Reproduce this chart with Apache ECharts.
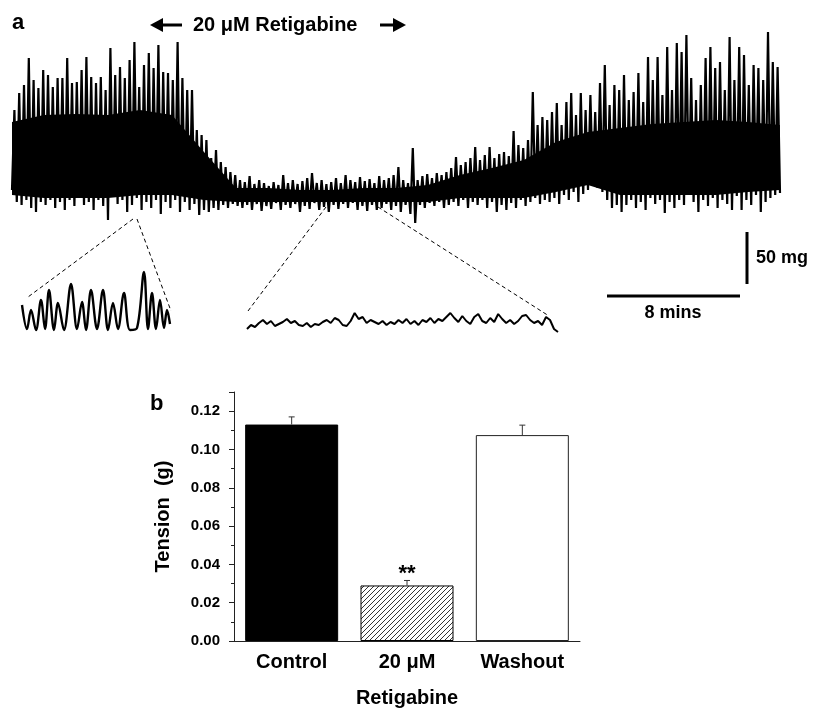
<!DOCTYPE html>
<html lang="en">
<head>
<meta charset="utf-8">
<title>Retigabine - tension</title>
<script src="https://cdn.jsdelivr.net/npm/echarts@6/dist/echarts.min.js"></script>
<style>
  html, body { margin: 0; padding: 0; background: #fff; }
  #chart { width: 819px; height: 709px; }
</style>
</head>
<body>
<div id="chart"></div>
<script>
// ---- panel a: raw tension trace (mg above trace floor) ----
const traceMg = [
  40,120,28,137,25,145,30,172,22,150, 18,142,28,160,25,155,30,143,22,152,
  28,152,20,172,30,147,24,148,32,160, 25,173,28,153,20,147,30,153,24,140,
  10,182,35,155,26,163,30,152,18,170, 25,188,32,143,20,165,28,177,22,162,
  30,185,16,158,28,157,22,150,30,188, 18,152,28,140,20,140,26,
  100,15,95,20,90,18,72,22,80,20,68,25,63,22,58,26,55,24,
  50,22,48,25,54,20,46,26,50,19, 47,24,44,21,48,27,45,20,55,25,
  47,22,50,26,46,18,49,24,52,21, 57,27,47,20,50,23,46,18,48,25,
  52,21,47,26,55,22,50,27,48,20, 53,24,49,19,51,25,47,20,54,22,
  50,26,52,20,55,24,63,18,50,25, 47,16,82,7,50,25,54,22,56,27,
  52,24,57,28,55,22,
  58,25,62,28,73,24,65,30,68,22, 72,28,83,25,70,30,75,22,83,28,
  72,18,76,25,78,20,74,27,99,22, 85,30,82,24,90,28,138,32,105,26,
  113,30,110,28,118,32,127,26,105,35, 128,30,137,38,115,28,137,36,120,40,
  135,45,118,42,147,38,165,30,125,22, 145,25,140,18,
  155,25,130,30,138,22,157,28,128,20, 173,32,150,26,173,30,135,17,183,28,
  140,22,187,30,178,25,195,35,152,28, 130,18,145,30,172,24,183,32,162,22,
  168,30,140,26,193,20,150,34,183,20, 175,30,145,25,165,35,162,18,150,28,
  198,32,168,35,163,37
];
const sampleMin = 0.1444;   // minutes between samples (8 min ~ 55 samples)

// solid core of the trace (where the oscillations overlap), read every ~1.9 min
const coreStepMin = 1.925;
const coreTopMg    = [108,115,116,115,120,115,78,42,42,40,40,42,42,45,55,62,70,88,98,102,106,108,110,108,105];
const coreBottomMg = [35,32,32,32,35,35,30,28,28,28,28,28,28,28,32,32,32,38,45,35,35,35,35,38,40];

// expanded insets: control period (left) and retigabine period (middle)
const leftInsetT  = [0,5,9,14,19,23,27,32,36,42,49,55,60,64,69,75,81,86,91,96,102,108,115,122,126,130,134,138,142,145,148];
const leftInsetMg = [27,3,22,2,32,3,42,2,29,2,48,3,30,2,42,3,42,2,29,3,39,2,4,60,3,39,3,32,4,22,8];
const midInsetMg = [
  6,10,8,12,15,11,14,9,11,13, 16,12,14,10,9,12,8,11,10,13,
  15,12,17,15,10,9,14,22,16,18, 12,15,13,11,14,10,13,11,15,12,
  16,11,14,10,15,13,17,12,16,14, 18,22,17,13,19,14,11,18,21,14,
  12,17,13,21,16,12,15,11,14,19, 20,15,12,14,10,18,15,6,3
];

// ---- panel b: mean tension ----
const groups = ['Control', '20 \u03BCM', 'Washout'];
const tensionG = [0.113, 0.029, 0.1075];
const semG = [0.004, 0.0026, 0.0052];
const sigMarks = ['', '**', ''];

const FONT = '"Liberation Sans", Arial, Helvetica, sans-serif';

function hatch() {
  const c = document.createElement('canvas');
  c.width = 5; c.height = 5;
  const g = c.getContext('2d');
  g.fillStyle = '#fff';
  g.fillRect(0, 0, 5, 5);
  g.strokeStyle = '#000';
  g.lineWidth = 0.8;
  g.beginPath();
  g.moveTo(0, 5); g.lineTo(5, 0);
  g.moveTo(-1, 1); g.lineTo(1, -1);
  g.moveTo(4, 6); g.lineTo(6, 4);
  g.stroke();
  return c;
}

const barStyles = [
  { color: '#000', borderColor: '#000', borderWidth: 1 },
  { color: { image: hatch(), repeat: 'repeat' }, borderColor: '#000', borderWidth: 1 },
  { color: '#fff', borderColor: '#222', borderWidth: 1 }
];

function txt(x, y, text, size, align) {
  return {
    type: 'text', x: x, y: y, silent: true, z: 100,
    style: {
      text: text, fill: '#000', font: 'bold ' + size + 'px ' + FONT,
      textAlign: align || 'left', textVerticalAlign: 'middle',
      align: align || 'left', verticalAlign: 'middle'
    }
  };
}
function seg(x1, y1, x2, y2, w, dash) {
  return {
    type: 'line', silent: true, z: 100,
    shape: { x1: x1, y1: y1, x2: x2, y2: y2 },
    style: { stroke: '#000', lineWidth: w, lineDash: dash || null }
  };
}

const chart = echarts.init(document.getElementById('chart'), null, { renderer: 'canvas' });

const option = {
  animation: false,
  backgroundColor: '#fff',
  grid: [
    { left: 12, top: 30, width: 768, height: 200 },
    { left: 22, top: 265, width: 150, height: 67 },
    { left: 247, top: 300, width: 311, height: 35 },
    { left: 234, top: 392, width: 346, height: 250 }
  ],
  xAxis: [
    { gridIndex: 0, type: 'value', min: 0, max: (traceMg.length - 1) * sampleMin, show: false },
    { gridIndex: 1, type: 'value', min: 0, max: 150, show: false },
    { gridIndex: 2, type: 'value', min: 0, max: 311, show: false },
    {
      gridIndex: 3, type: 'category', data: groups,
      axisLine: { lineStyle: { color: '#222', width: 1 } },
      axisTick: { show: false },
      axisLabel: { color: '#000', fontFamily: FONT, fontWeight: 'bold', fontSize: 20, margin: 11 },
      name: 'Retigabine', nameLocation: 'middle', nameGap: 47,
      nameTextStyle: { color: '#000', fontFamily: FONT, fontWeight: 'bold', fontSize: 20 }
    }
  ],
  yAxis: [
    { gridIndex: 0, type: 'value', min: 0, max: 200, show: false },
    { gridIndex: 1, type: 'value', min: 0, max: 67, show: false },
    { gridIndex: 2, type: 'value', min: 0, max: 35, show: false },
    {
      gridIndex: 3, type: 'value', min: 0, max: 0.13, interval: 0.02,
      axisLine: { show: true, lineStyle: { color: '#222', width: 1 } },
      axisTick: { show: true, length: 5, lineStyle: { color: '#222' } },
      minorTick: { show: true, splitNumber: 2, length: 3, lineStyle: { color: '#222' } },
      splitLine: { show: false },
      axisLabel: {
        color: '#000', fontFamily: FONT, fontWeight: 'bold', fontSize: 15, margin: 14,
        showMaxLabel: false,
        formatter: function (v) { return v.toFixed(2); }
      },
      name: 'Tension  (g)', nameLocation: 'middle', nameGap: 61, nameRotate: 90,
      nameTextStyle: { color: '#000', fontFamily: FONT, fontWeight: 'bold', fontSize: 20 }
    }
  ],
  series: [
    // solid core band of the trace, between coreBottomMg and coreTopMg
    {
      type: 'custom', xAxisIndex: 0, yAxisIndex: 0, silent: true, z: 1,
      data: [0],
      renderItem: function (params, api) {
        const pts = [];
        coreTopMg.forEach(function (v, i) { pts.push(api.coord([i * coreStepMin, v])); });
        for (let i = coreBottomMg.length - 1; i >= 0; i--) {
          pts.push(api.coord([i * coreStepMin, coreBottomMg[i]]));
        }
        return { type: 'polygon', shape: { points: pts }, style: { fill: '#000' } };
      }
    },
    {
      type: 'line', xAxisIndex: 0, yAxisIndex: 0, silent: true, z: 3,
      data: traceMg.map(function (v, i) { return [i * sampleMin, v]; }),
      showSymbol: false, lineStyle: { color: '#000', width: 2.2 }
    },
    {
      type: 'line', xAxisIndex: 1, yAxisIndex: 1, silent: true, smooth: 0.35,
      data: leftInsetT.map(function (t, i) { return [t, leftInsetMg[i]]; }),
      showSymbol: false, lineStyle: { color: '#000', width: 2.4 }
    },
    {
      type: 'line', xAxisIndex: 2, yAxisIndex: 2, silent: true,
      data: midInsetMg.map(function (v, i) { return [i * 311 / (midInsetMg.length - 1), v]; }),
      showSymbol: false, lineStyle: { color: '#000', width: 2 }
    },
    {
      type: 'bar', xAxisIndex: 3, yAxisIndex: 3, barWidth: 93, silent: true,
      data: tensionG.map(function (v, i) { return { value: v, itemStyle: barStyles[i] }; })
    },
    {
      type: 'custom', xAxisIndex: 3, yAxisIndex: 3, silent: true, z: 5,
      data: tensionG.map(function (v, i) { return [i, v, v + semG[i]]; }),
      renderItem: function (params, api) {
        const base = api.coord([api.value(0), api.value(1)]);
        const top = api.coord([api.value(0), api.value(2)]);
        const kids = [
          { type: 'line', shape: { x1: base[0], y1: base[1], x2: top[0], y2: top[1] }, style: { stroke: '#333', lineWidth: 1 } },
          { type: 'line', shape: { x1: top[0] - 3, y1: top[1], x2: top[0] + 3, y2: top[1] }, style: { stroke: '#333', lineWidth: 1 } }
        ];
        const mark = sigMarks[params.dataIndex];
        if (mark) {
          kids.push({
            type: 'text', x: top[0], y: top[1] - 7,
            style: { text: mark, fill: '#000', font: 'bold 22px ' + FONT, textAlign: 'center', textVerticalAlign: 'middle', align: 'center', verticalAlign: 'middle' }
          });
        }
        return { type: 'group', children: kids };
      }
    }
  ],
  graphic: [
    txt(12, 23, 'a', 22),
    { type: 'polygon', silent: true, shape: { points: [[150, 25], [163, 18], [163, 32]] }, style: { fill: '#000' } },
    { type: 'rect', silent: true, shape: { x: 162, y: 23.5, width: 20, height: 3 }, style: { fill: '#000' } },
    txt(193, 25, '20 \u03BCM Retigabine', 20),
    { type: 'rect', silent: true, shape: { x: 380, y: 23.5, width: 14, height: 3 }, style: { fill: '#000' } },
    { type: 'polygon', silent: true, shape: { points: [[406, 25], [393, 18], [393, 32]] }, style: { fill: '#000' } },
    seg(133, 219, 28, 297, 1, [4, 3]),
    seg(137, 219, 171, 311, 1, [4, 3]),
    seg(326, 207, 248, 311, 1, [4, 3]),
    seg(378, 207, 549, 316, 1, [4, 3]),
    seg(747, 232, 747, 284, 3),
    txt(756, 258, '50 mg', 18),
    seg(607, 296, 740, 296, 3),
    txt(673, 313, '8 mins', 18, 'center'),
    txt(150, 404, 'b', 22)
  ]
};

chart.setOption(option);
</script>
</body>
</html>
